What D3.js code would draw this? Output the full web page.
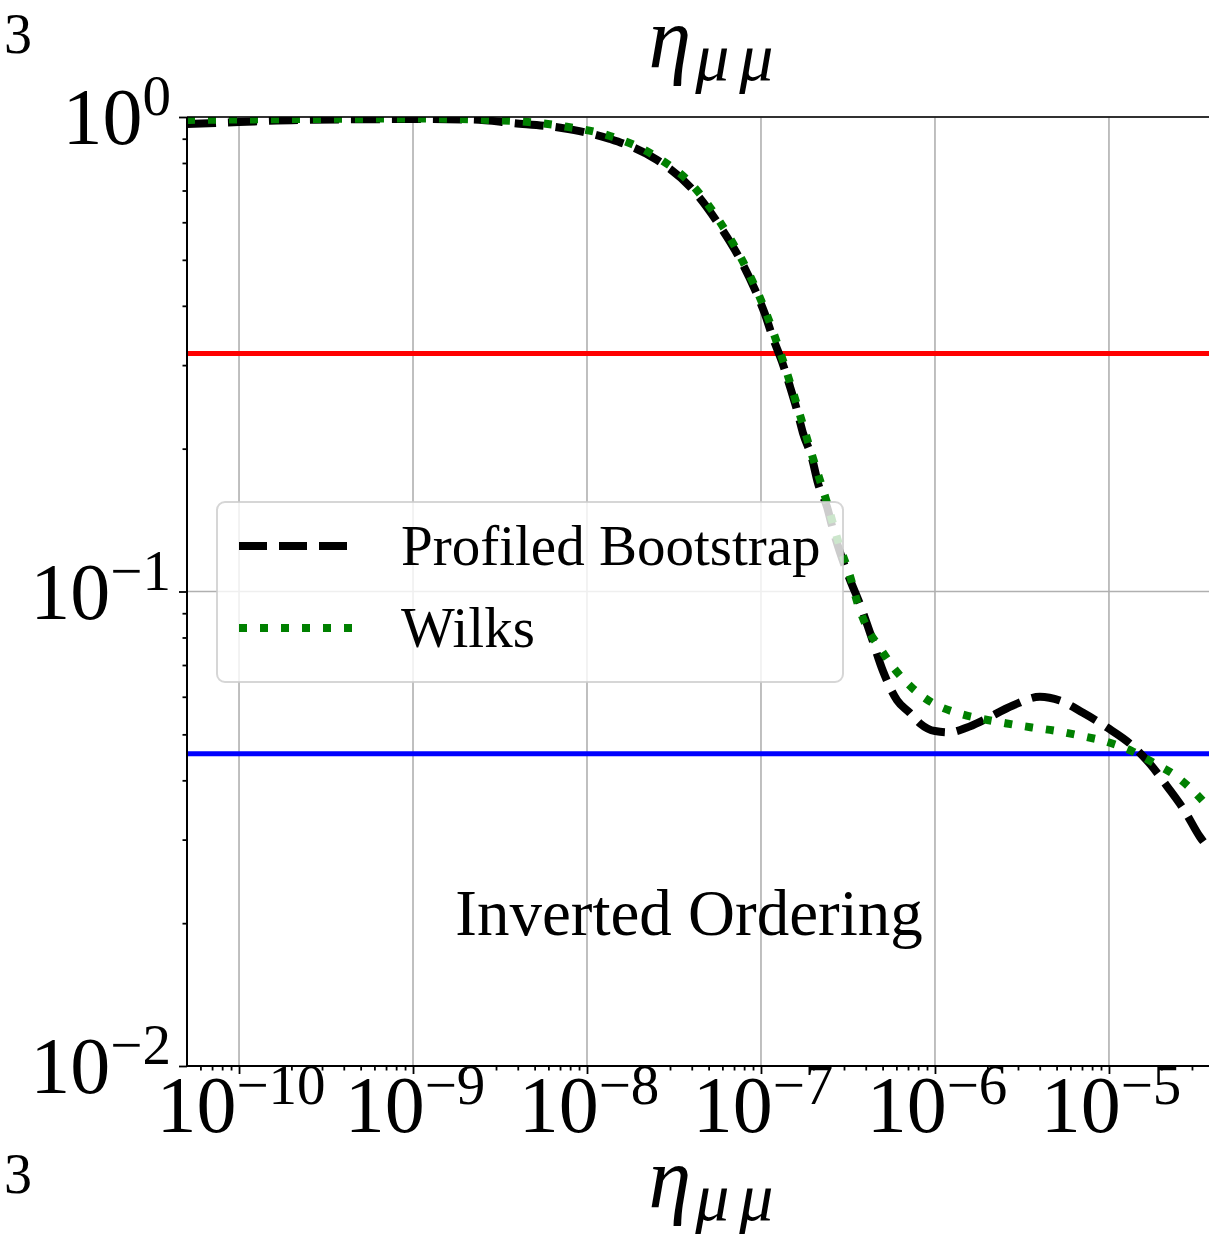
<!DOCTYPE html>
<html lang="en">
<head>
  <meta charset="UTF-8">
  <title>eta_mumu p-value</title>
  <script src="https://d3js.org/d3.v7.min.js"></script>
  <style>
    body { margin: 0; background: #fff; }
    svg text { font-family: "Liberation Serif", "Times New Roman", serif; fill: #000; }
    .math { font-style: italic; }
  </style>
</head>
<body>
  <div id="chart"></div>
  <script>
    // log10(eta) positions and p-values
    const bootLogEta = [-10.299, -10, -9.649, -9, -8.672, -8.425, -8.144, -7.868, -7.598, -7.391,
      -7.236, -7.103, -7.034, -6.977, -6.931, -6.879, -6.833, -6.793, -6.759, -6.707,
      -6.672, -6.621, -6.586, -6.546, -6.489, -6.431, -6.374, -6.299, -6.218, -6.144,
      -6.086, -6, -5.914, -5.816, -5.724, -5.552, -5.397, -5.282, -5.149, -5.011,
      -4.862, -4.764, -4.667, -4.563, -4.477, -4.425];
    const bootP = [0.966, 0.976, 0.986, 0.990, 0.988, 0.971, 0.948, 0.899, 0.812, 0.702,
      0.589, 0.488, 0.432, 0.384, 0.342, 0.305, 0.270, 0.241, 0.216, 0.191,
      0.169, 0.151, 0.135, 0.121, 0.106, 0.094, 0.082, 0.068, 0.059, 0.0555,
      0.0527, 0.0508, 0.0505, 0.0517, 0.0535, 0.0575, 0.060, 0.0589, 0.0555, 0.0517,
      0.0472, 0.0433, 0.0389, 0.0344, 0.0304, 0.0287];

    const wilksLogEta = [-10.299, -9.649, -9, -8.425, -8.144, -7.868, -7.598, -7.391, -7.236, -7.103,
      -6.977, -6.879, -6.793, -6.707, -6.621, -6.546, -6.489, -6.443, -6.391, -6.316,
      -6.230, -6.132, -6.017, -5.874, -5.730, -5.586, -5.443, -5.299, -5.155, -5.011,
      -4.868, -4.747, -4.621, -4.506, -4.425];
    const wilksP = [0.986, 0.990, 0.993, 0.981, 0.957, 0.912, 0.823, 0.716, 0.601, 0.495,
      0.392, 0.311, 0.247, 0.194, 0.154, 0.124, 0.108, 0.094, 0.084, 0.076,
      0.0685, 0.0627, 0.0583, 0.0555, 0.0539, 0.0527, 0.0517, 0.0508, 0.0496, 0.0482,
      0.0461, 0.0436, 0.0410, 0.0377, 0.0350];

    const sigmaLevels = [0.3173, 0.0455];
    const sigmaColors = ["#ff0000", "#0000ff"];
    const xMajor = [1e-10, 1e-9, 1e-8, 1e-7, 1e-6, 1e-5];
    const xMajorExp = ["\u221210", "\u22129", "\u22128", "\u22127", "\u22126", "\u22125"];
    const yMajor = [1, 0.1, 0.01];
    const yMajorExp = ["0", "\u22121", "\u22122"];
    const legendNames = ["Profiled Bootstrap", "Wilks"];

    const W = 1209, H = 1240;
    const plot = { left: 187, top: 117, right: 1209, bottom: 1066 };

    const svg = d3.select("#chart").append("svg")
      .attr("width", W).attr("height", H);
    svg.append("rect").attr("width", W).attr("height", H).attr("fill", "#fff");

    const x = d3.scaleLog()
      .domain([Math.pow(10, -10.299), Math.pow(10, -4.425)])
      .range([plot.left, plot.right]);
    const y = d3.scaleLog()
      .domain([0.01, 1])
      .range([plot.bottom, plot.top]);

    svg.append("clipPath").attr("id", "clip")
      .append("rect")
      .attr("x", plot.left).attr("y", plot.top)
      .attr("width", plot.right - plot.left).attr("height", plot.bottom - plot.top);

    // grid
    const grid = svg.append("g");
    grid.selectAll(".gx").data(xMajor).enter().append("line")
      .attr("x1", d => x(d)).attr("x2", d => x(d))
      .attr("y1", plot.top).attr("y2", plot.bottom)
      .attr("stroke", "#b0b0b0").attr("stroke-width", 1.6);
    grid.selectAll(".gy").data(yMajor).enter().append("line")
      .attr("y1", d => y(d)).attr("y2", d => y(d))
      .attr("x1", plot.left).attr("x2", plot.right)
      .attr("stroke", "#b0b0b0").attr("stroke-width", 1.6);

    const g = svg.append("g").attr("clip-path", "url(#clip)");

    // significance lines
    g.selectAll(".sig").data(sigmaLevels).enter().append("line")
      .attr("x1", plot.left).attr("x2", plot.right)
      .attr("y1", d => y(d)).attr("y2", d => y(d))
      .attr("stroke", (d, i) => sigmaColors[i]).attr("stroke-width", 5);

    const line = d3.line()
      .x(d => x(Math.pow(10, d[0])))
      .y(d => y(d[1]))
      .curve(d3.curveMonotoneX);

    g.append("path")
      .datum(d3.zip(bootLogEta, bootP))
      .attr("d", line)
      .attr("fill", "none").attr("stroke", "#000")
      .attr("stroke-width", 8).attr("stroke-dasharray", "29,12");

    g.append("path")
      .datum(d3.zip(wilksLogEta, wilksP))
      .attr("d", line)
      .attr("fill", "none").attr("stroke", "#008000")
      .attr("stroke-width", 8).attr("stroke-dasharray", "8,13");

    // axes
    const xAxis = d3.axisBottom(x).tickSize(8).tickFormat("").tickValues(xMajor);
    const xMinor = d3.axisBottom(x).tickSize(4.5).tickFormat("")
      .tickValues(x.ticks().filter(t => !xMajor.some(m => Math.abs(m - t) / m < 1e-6)));
    const yAxis = d3.axisLeft(y).tickSize(8).tickFormat("").tickValues(yMajor);
    const yMinor = d3.axisLeft(y).tickSize(4.5).tickFormat("")
      .tickValues(y.ticks().filter(t => !yMajor.some(m => Math.abs(m - t) / m < 1e-6)));

    [svg.append("g").attr("transform", `translate(0,${plot.bottom})`).call(xAxis),
     svg.append("g").attr("transform", `translate(0,${plot.bottom})`).call(xMinor),
     svg.append("g").attr("transform", `translate(${plot.left},0)`).call(yAxis),
     svg.append("g").attr("transform", `translate(${plot.left},0)`).call(yMinor)]
      .forEach(a => {
        a.select(".domain").remove();
        a.selectAll(".tick line").attr("stroke", "#000").attr("stroke-width", 1.8);
      });

    // spines
    svg.append("line").attr("x1", plot.left).attr("x2", plot.left)
      .attr("y1", plot.top).attr("y2", plot.bottom).attr("stroke", "#000").attr("stroke-width", 2);
    svg.append("line").attr("x1", plot.left).attr("x2", plot.right)
      .attr("y1", plot.bottom).attr("y2", plot.bottom).attr("stroke", "#000").attr("stroke-width", 2);
    svg.append("line").attr("x1", plot.left).attr("x2", plot.right)
      .attr("y1", plot.top).attr("y2", plot.top).attr("stroke", "#000").attr("stroke-width", 1.5);

    // tick labels
    const xl = svg.append("g").selectAll("text").data(xMajor).enter().append("text")
      .attr("x", d => x(d) + 2).attr("y", plot.bottom + 66)
      .attr("text-anchor", "middle").attr("font-size", 80);
    xl.append("tspan").text("10");
    xl.append("tspan").attr("dy", -28).attr("font-size", 57).text((d, i) => xMajorExp[i]);

    const yl = svg.append("g").selectAll("text").data(yMajor).enter().append("text")
      .attr("x", 171).attr("y", d => y(d) + 27)
      .attr("text-anchor", "end").attr("font-size", 80);
    yl.append("tspan").text("10");
    yl.append("tspan").attr("dy", -29).attr("font-size", 57).text((d, i) => yMajorExp[i]);

    // titles
    function etaLabel(cx, baseline) {
      const t = svg.append("text").attr("class", "math")
        .attr("x", cx).attr("y", baseline).attr("text-anchor", "middle");
      t.append("tspan").attr("font-size", 86).text("\u03b7");
      t.append("tspan").attr("font-size", 68).attr("dy", 13).attr("dx", 4)
        .attr("letter-spacing", 10).text("\u03bc\u03bc");
    }
    etaLabel(716, 67);
    etaLabel(716, 1207);

    // stray labels from neighbouring panels
    svg.append("text").attr("x", 4).attr("y", 53).attr("font-size", 56).text("3");
    svg.append("text").attr("x", 4).attr("y", 1193).attr("font-size", 56).text("3");

    svg.append("text").attr("x", 689).attr("y", 935)
      .attr("text-anchor", "middle").attr("font-size", 65).text("Inverted Ordering");

    // legend
    const lg = svg.append("g");
    lg.append("rect")
      .attr("x", 217).attr("y", 502).attr("width", 626).attr("height", 180)
      .attr("rx", 8).attr("fill", "#fff").attr("fill-opacity", 0.8)
      .attr("stroke", "#cccccc").attr("stroke-opacity", 0.8).attr("stroke-width", 2);
    const legendStyles = [
      { color: "#000", width: 8, dash: "28,12" },
      { color: "#008000", width: 8, dash: "8,13" }
    ];
    legendNames.forEach((name, i) => {
      const yy = 546 + i * 82;
      lg.append("line")
        .attr("x1", 239).attr("x2", 356).attr("y1", yy).attr("y2", yy)
        .attr("stroke", legendStyles[i].color).attr("stroke-width", legendStyles[i].width)
        .attr("stroke-dasharray", legendStyles[i].dash);
      lg.append("text").attr("x", 401).attr("y", yy + 19)
        .attr("font-size", 57).text(name);
    });
  </script>
</body>
</html>
